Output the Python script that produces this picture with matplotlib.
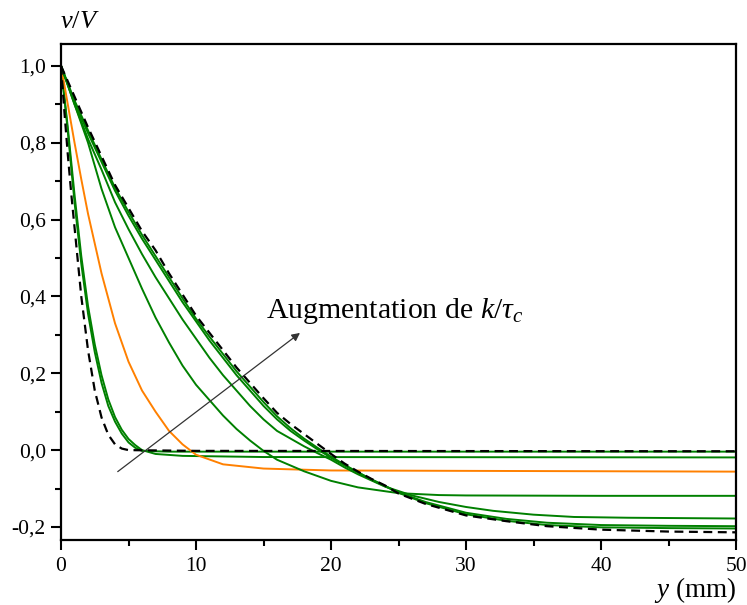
import numpy as np
import matplotlib.pyplot as plt
from matplotlib.ticker import MultipleLocator, FuncFormatter

# values (y in mm, v/V)
x_dash_steep = [0, 0.25, 0.5, 0.75, 1, 1.5, 2, 2.5, 3, 3.5, 4, 4.5, 5, 10, 50]
v_dash_steep = [1, 0.88, 0.77, 0.67, 0.58, 0.40, 0.26, 0.155, 0.085, 0.04, 0.015, 0.004, 0, -0.002, -0.003]

x_g1 = [0, 0.5, 1, 1.5, 2, 2.5, 3, 3.5, 4, 4.5, 5, 5.5, 6, 8, 50]
v_g1 = [1, 0.83, 0.645, 0.485, 0.355, 0.255, 0.175, 0.115, 0.074, 0.043, 0.02, 0.006, -0.002, -0.004, -0.004]

x_g2 = [0, 0.5, 1, 1.5, 2, 2.5, 3, 3.5, 4, 4.5, 5, 5.5, 6, 7, 9, 15, 50]
v_g2 = [1, 0.84, 0.665, 0.505, 0.375, 0.275, 0.195, 0.132, 0.086, 0.053, 0.029, 0.013, 0.0, -0.01, -0.015, -0.018, -0.019]

x_orange = [0, 0.5, 1, 1.5, 2, 3, 4, 5, 6, 7, 8, 9, 10, 12, 15, 20, 30, 40, 50]
v_orange = [1, 0.9, 0.8, 0.705, 0.615, 0.46, 0.33, 0.23, 0.155, 0.10, 0.05, 0.015, -0.012, -0.037,
            -0.048, -0.053, -0.054, -0.055, -0.056]

x_d = [0, 1, 2, 3, 4, 5, 6, 7, 8, 9, 10, 11, 12, 13, 14, 15, 16, 18, 20, 22, 25, 28, 30, 40, 50]
v_d = [1, 0.9, 0.80, 0.68, 0.58, 0.50, 0.42, 0.345, 0.28, 0.22, 0.17, 0.13, 0.09, 0.055, 0.025,
       -0.002, -0.025, -0.055, -0.08, -0.097, -0.112, -0.117, -0.118, -0.119, -0.119]

x_e1 = [0, 1, 2, 3, 4, 5, 6, 7, 8, 9, 10, 11, 12, 13, 14, 15, 16, 17, 18, 19, 20, 21, 22, 24, 26,
        28, 30, 32, 35, 38, 42, 46, 50]
v_e1 = [1, 0.9, 0.81, 0.73, 0.645, 0.575, 0.51, 0.45, 0.395, 0.34, 0.29, 0.24, 0.195, 0.155, 0.115,
        0.08, 0.05, 0.03, 0.01, -0.008, -0.025, -0.045, -0.063, -0.095, -0.118, -0.135, -0.148,
        -0.158, -0.168, -0.174, -0.176, -0.177, -0.178]

x_e = [0, 1, 2, 3, 4, 5, 6, 7, 8, 9, 10, 11, 12, 13, 14, 15, 16, 17, 18, 19, 20, 21, 22, 23, 24,
       25, 27, 30, 33, 36, 40, 45, 50]
v_e2 = [1, 0.905, 0.825, 0.75, 0.675, 0.61, 0.55, 0.495, 0.44, 0.385, 0.335, 0.285, 0.24, 0.195,
        0.155, 0.115, 0.08, 0.05, 0.025, 0.002, -0.02, -0.04, -0.058, -0.076, -0.093, -0.11, -0.135,
        -0.163, -0.179, -0.189, -0.195, -0.197, -0.198]
v_e3 = [1, 0.91, 0.832, 0.757, 0.683, 0.62, 0.56, 0.505, 0.45, 0.395, 0.342, 0.295, 0.25, 0.205,
        0.165, 0.125, 0.088, 0.057, 0.03, 0.006, -0.017, -0.038, -0.058, -0.077, -0.094, -0.111,
        -0.138, -0.167, -0.184, -0.195, -0.201, -0.203, -0.204]

x_dash_lin = [0, 1, 2, 3, 4, 5, 6, 7, 8, 9, 10, 11, 12, 13, 14, 15, 16, 17, 18, 19, 20, 21, 22, 23,
              24, 25, 27, 30, 33, 36, 40, 45, 50]
v_dash_lin = [1, 0.92, 0.84, 0.765, 0.69, 0.63, 0.57, 0.52, 0.46, 0.405, 0.35, 0.305, 0.26, 0.215,
              0.175, 0.135, 0.097, 0.068, 0.042, 0.016, -0.01, -0.035, -0.056, -0.075, -0.092,
              -0.113, -0.14, -0.17, -0.185, -0.198, -0.207, -0.212, -0.214]

plt.rcParams['font.family'] = ['Liberation Serif', 'DejaVu Serif']
plt.rcParams['mathtext.fontset'] = 'custom'
plt.rcParams['mathtext.it'] = 'Liberation Serif:italic'
plt.rcParams['mathtext.rm'] = 'Liberation Serif'

fig = plt.figure(figsize=(7.47, 6.05), dpi=100)
ax = fig.add_axes([0.0817, 0.1074, 0.9036, 0.8199])

green = '#008000'
orange = '#ff8000'
lw = 1.4

ax.plot(x_g1, v_g1, color=green, lw=lw)
ax.plot(x_g2, v_g2, color=green, lw=lw)
ax.plot(x_orange, v_orange, color=orange, lw=lw)
ax.plot(x_d, v_d, color=green, lw=lw)
ax.plot(x_e1, v_e1, color=green, lw=lw)
ax.plot(x_e, v_e2, color=green, lw=lw)
ax.plot(x_e, v_e3, color=green, lw=lw)
ax.plot(x_dash_steep, v_dash_steep, color='black', lw=1.6, dashes=(4, 2.5))
ax.plot(x_dash_lin, v_dash_lin, color='black', lw=1.6, dashes=(4, 2.5))

ax.annotate('', xy=(17.7, 0.305), xytext=(4.2, -0.056),
            arrowprops=dict(arrowstyle='-|>', color='#333333', lw=0.9, mutation_scale=12,
                            shrinkA=0, shrinkB=0))
ax.text(15.2, 0.362, r'Augmentation de $k/\tau_c$', fontsize=21.5, va='center', ha='left')

ax.set_xlim(0, 50)
ax.set_ylim(-0.234, 1.057)
ax.xaxis.set_major_locator(MultipleLocator(10))
ax.xaxis.set_minor_locator(MultipleLocator(5))
ax.yaxis.set_major_locator(MultipleLocator(0.2))
ax.yaxis.set_minor_locator(MultipleLocator(0.1))

def comma(v, pos):
    s = f'{v:.1f}'.replace('.', ',')
    return '0,0' if s == '-0,0' else s

ax.yaxis.set_major_formatter(FuncFormatter(comma))
ax.xaxis.set_major_formatter(FuncFormatter(lambda v, p: f'{v:.0f}'))
ax.tick_params(which='major', direction='out', length=7, width=1.5, labelsize=15.5, colors='black')
ax.tick_params(which='minor', direction='out', length=4, width=1.5)
ax.tick_params(axis='x', pad=5)
ax.tick_params(axis='y', pad=4)
for s in ax.spines.values():
    s.set_linewidth(1.6)

fig.text(60 / 747, 1 - 22 / 605, r'$v/V$', fontsize=19, ha='left', va='center')
fig.text(736 / 747, 1 - 590 / 605, r'$y$ (mm)', fontsize=19.5, ha='right', va='center')

fig.savefig('out.png', dpi=100)
